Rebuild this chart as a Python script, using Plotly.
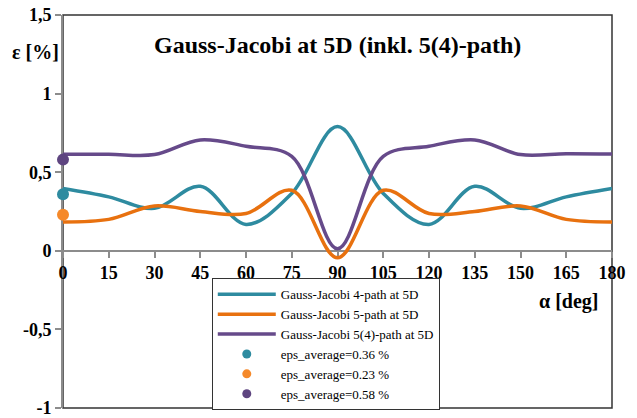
import plotly.graph_objects as go

# Angle grid (deg) and strain error (%) for each path variant
alpha = [0, 15, 30, 45, 60, 75, 90, 105, 120, 135, 150, 165, 180]
eps_4path = [0.396, 0.343, 0.27, 0.41, 0.168, 0.365, 0.79, 0.365, 0.168, 0.41, 0.27, 0.343, 0.396]
eps_5path = [0.184, 0.20, 0.285, 0.25, 0.237, 0.385, -0.045, 0.385, 0.237, 0.25, 0.285, 0.20, 0.184]
eps_54path = [0.614, 0.614, 0.612, 0.705, 0.665, 0.60, 0.013, 0.60, 0.665, 0.705, 0.612, 0.618, 0.615]

# Averages, plotted as single markers at alpha = 0
avg_alpha = [0]
avg_4path = [0.36]
avg_5path = [0.23]
avg_54path = [0.58]

y_tickvals = [-1, -0.5, 0, 0.5, 1, 1.5]
y_ticktext = ["-1", "-0,5", "0", "0,5", "1", "1,5"]

C_TEAL = "#2e8ba0"
C_ORANGE = "#e8710f"
C_PURPLE = "#664a8a"
M_TEAL = "#2e8ba0"
M_ORANGE = "#f5892a"
M_PURPLE = "#5e4580"

SERIF = "Liberation Serif"

fig = go.Figure()

for name, ys, col in [
    ("Gauss-Jacobi 4-path at 5D", eps_4path, C_TEAL),
    ("Gauss-Jacobi 5-path at 5D", eps_5path, C_ORANGE),
    ("Gauss-Jacobi 5(4)-path at 5D", eps_54path, C_PURPLE),
]:
    fig.add_trace(go.Scatter(
        x=alpha, y=ys, name=name, mode="lines",
        line=dict(color=col, width=3.5, shape="spline", smoothing=1),
    ))

for name, ys, col in [
    ("eps_average=0.36 %", avg_4path, M_TEAL),
    ("eps_average=0.23 %", avg_5path, M_ORANGE),
    ("eps_average=0.58 %", avg_54path, M_PURPLE),
]:
    # markers on the chart
    fig.add_trace(go.Scatter(
        x=avg_alpha, y=ys, mode="markers", showlegend=False, cliponaxis=False,
        marker=dict(color=col, size=12), hoverinfo="skip",
    ))
    # smaller legend symbol
    fig.add_trace(go.Scatter(
        x=[None], y=[None], name=name, mode="markers",
        marker=dict(color=col, size=9),
    ))

axis_gray = "#8c8c8c"
tick_font = dict(family=SERIF, size=18, color="black")

fig.update_layout(
    width=637, height=418,
    margin=dict(l=63, r=25, t=15, b=10, autoexpand=False),
    paper_bgcolor="white", plot_bgcolor="white",
    showlegend=True,
    legend=dict(
        x=0.271, y=0.33, xanchor="left", yanchor="top",
        bgcolor="white", bordercolor="#333333", borderwidth=1,
        font=dict(family=SERIF, size=13, color="black"),
        itemwidth=58, tracegroupgap=0,
    ),
    xaxis=dict(
        range=[0, 180], tickvals=alpha, ticktext=[f"<b>{a}</b>" for a in alpha],
        showgrid=False, zeroline=False,
        anchor="free", position=0.4,
        showline=True, linecolor=axis_gray, linewidth=2,
        ticks="outside", ticklen=6, tickwidth=2, tickcolor=axis_gray,
        tickfont=tick_font, ticklabeloverflow="allow",
        layer="below traces",
    ),
    yaxis=dict(
        range=[-1, 1.5], tickvals=y_tickvals, ticktext=[f"<b>{t}</b>" for t in y_ticktext],
        showgrid=False, zeroline=False,
        showline=True, linecolor=axis_gray, linewidth=2,
        ticks="outside", ticklen=6, tickwidth=2, tickcolor=axis_gray,
        tickfont=tick_font, ticklabeloverflow="allow",
        layer="below traces",
    ),
    shapes=[dict(
        type="rect", xref="paper", yref="paper", x0=0, x1=1, y0=0, y1=1,
        line=dict(color="#333333", width=1.5), layer="below",
    )],
    annotations=[
        dict(text="<b>Gauss-Jacobi at 5D (inkl. 5(4)-path)</b>", xref="paper", yref="paper",
             x=0.5, y=0.924, xanchor="center", yanchor="middle", showarrow=False,
             font=dict(family=SERIF, size=24, color="black")),
        dict(text="<b>ε [%]</b>", xref="paper", yref="paper",
             x=-0.051, y=0.906, xanchor="center", yanchor="middle", showarrow=False,
             font=dict(family=SERIF, size=20, color="black")),
        dict(text="<b>α [deg]</b>", xref="paper", yref="paper",
             x=0.92, y=0.27, xanchor="center", yanchor="middle", showarrow=False,
             font=dict(family=SERIF, size=20, color="black")),
    ],
)

fig.write_html("out.html")
